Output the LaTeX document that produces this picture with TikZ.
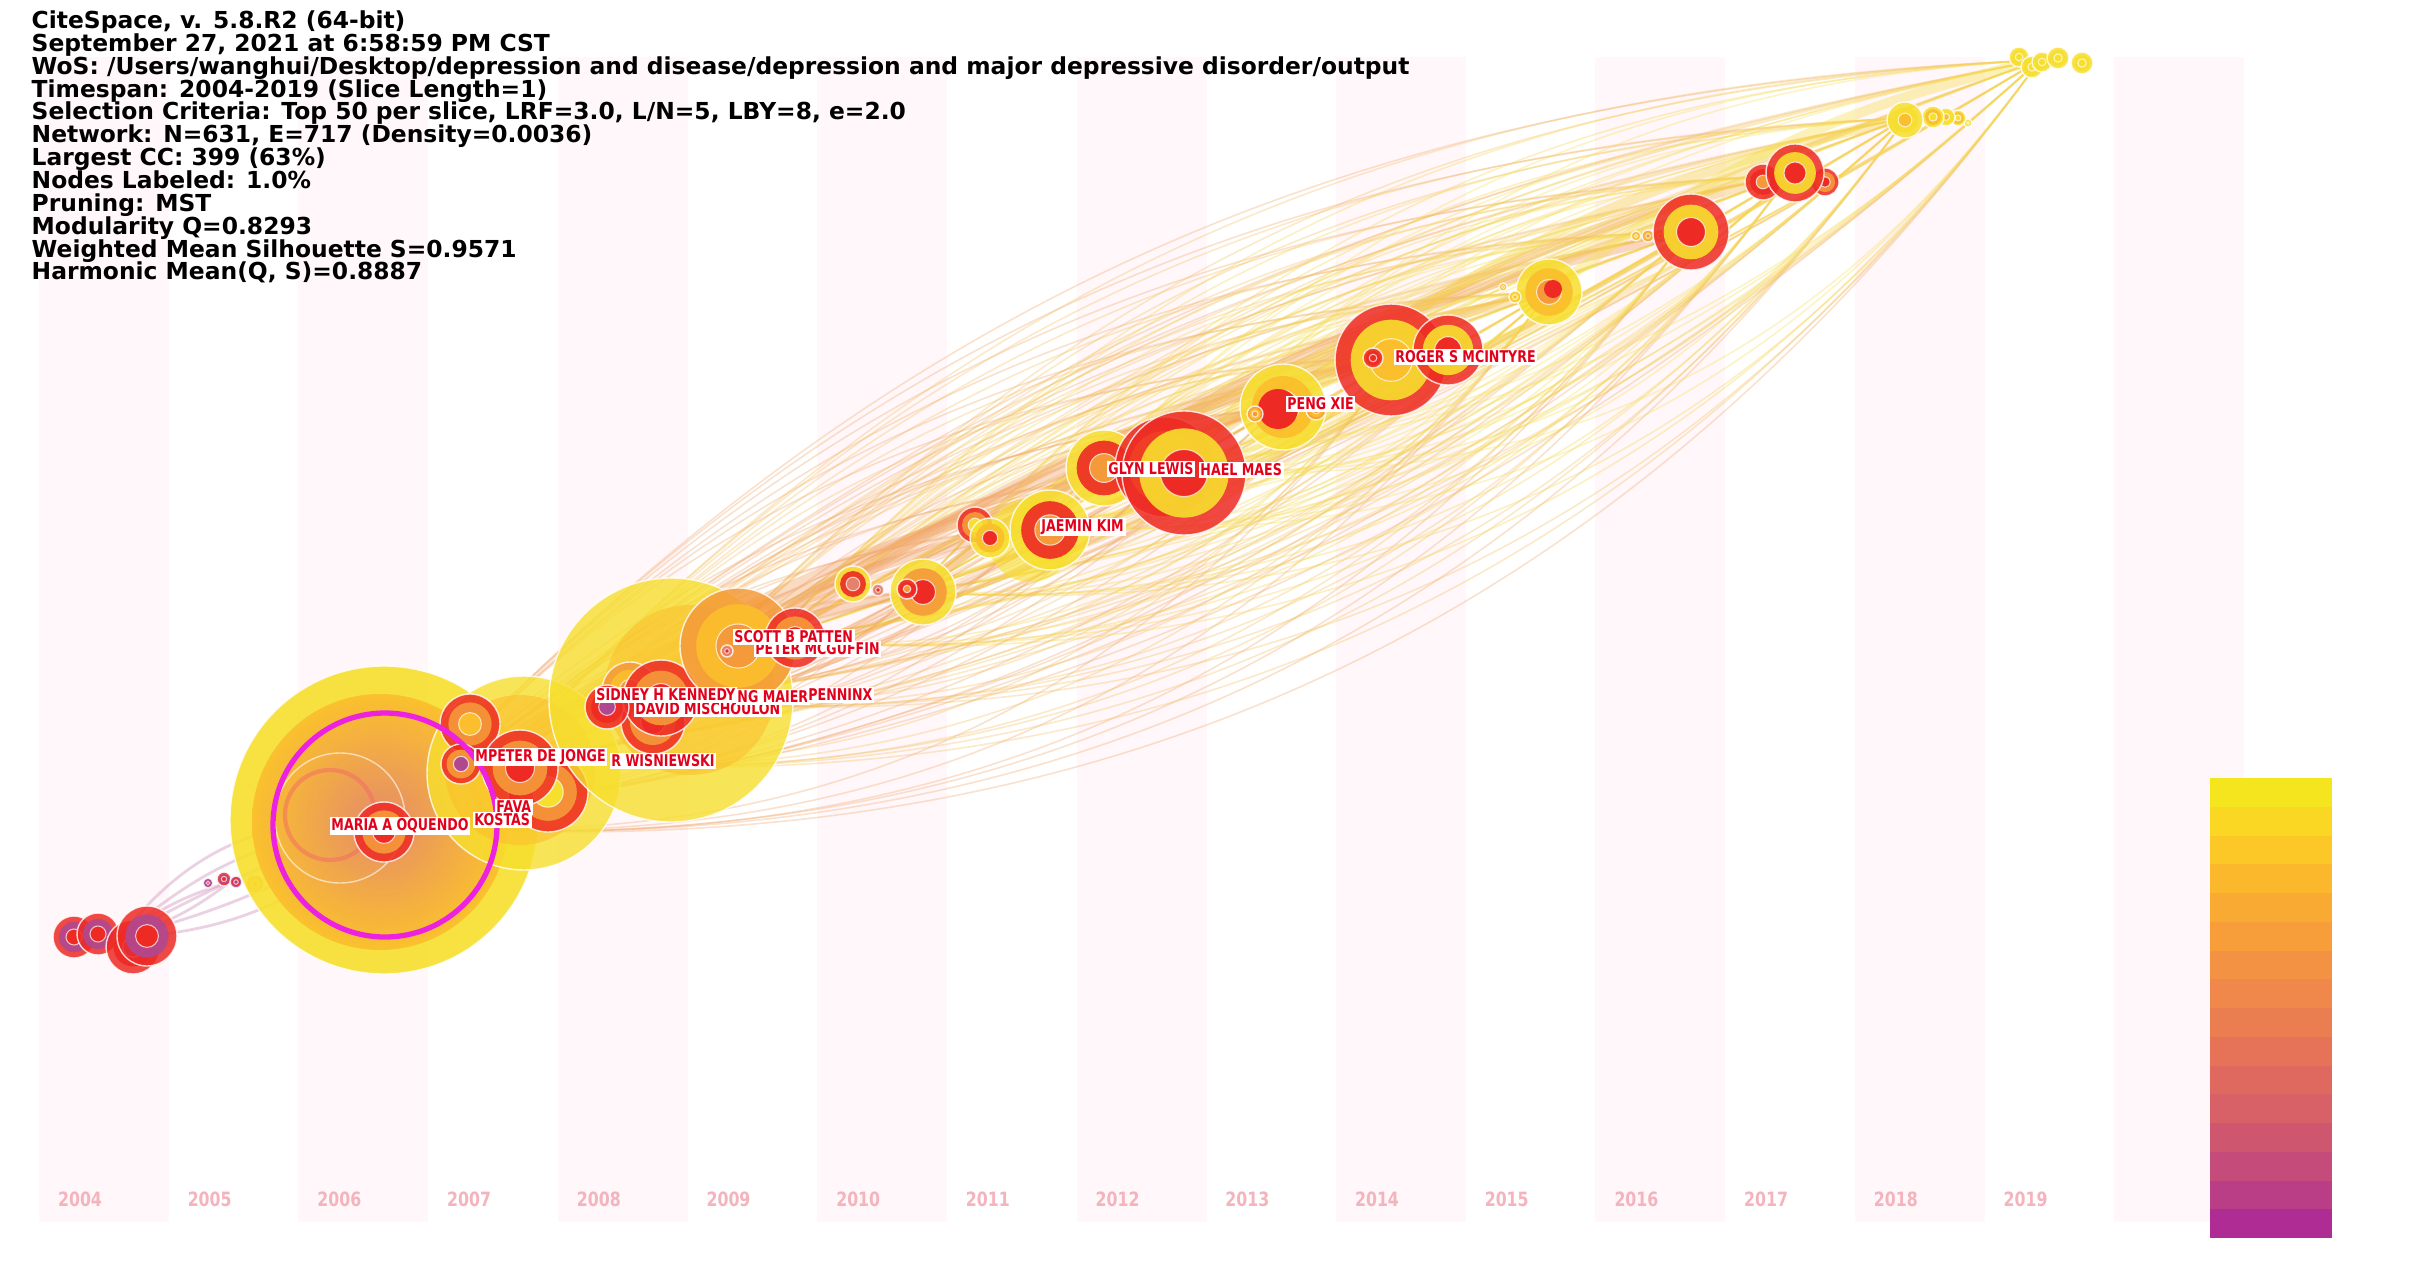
\documentclass[tikz,border=0pt]{standalone}
\usepackage{fontspec}
\setmainfont{DejaVu Sans}
\newfontfamily\lblfont[FakeStretch=0.78]{DejaVu Sans}
\newfontfamily\yrfont[FakeStretch=0.8]{DejaVu Sans}
\newcommand{\infofont}{\bfseries\fontsize{6.65}{6.5}\selectfont\lineskiplimit=-10pt\relax}

\definecolor{cyel}{HTML}{F7DF2E}
\definecolor{cgold}{HTML}{FBBE2C}
\definecolor{corg}{HTML}{F59A3A}
\definecolor{cred}{HTML}{EE2A24}
\definecolor{cpur}{HTML}{B04890}
\definecolor{cpink}{HTML}{E4826E}
\definecolor{cmag}{HTML}{EC22E0}
\definecolor{lblred}{HTML}{E3001B}
\definecolor{stripe}{HTML}{FFF7F9}
\definecolor{yrpink}{HTML}{F4B3BD}
\definecolor{eorange}{HTML}{F1A66A}
\definecolor{eamber}{HTML}{F4BE5C}
\definecolor{eyellow}{HTML}{F6D24A}
\definecolor{elemon}{HTML}{F7DE50}

\tikzset{
    edge/.style={line width=0.45pt, opacity=0.33},
    trail/.style={line width=2.8pt, opacity=0.4, line cap=round},
    pedge/.style={line width=0.8pt, draw=cpur!70, opacity=0.35},
    namelbl/.style={fill=white, text=lblred, font=\lblfont\bfseries\fontsize{4.6}{5}\selectfont, inner sep=0.5pt, anchor=west},
    yearlbl/.style={text=yrpink, font=\yrfont\bfseries\fontsize{5.6}{6}\selectfont, inner sep=0pt},
}

\newcommand{\ringnode}[6]{%
    \fill[#4, opacity=0.85] (#1,#2) circle[radius=#3];
    \fill[#5, opacity=0.9] (#1,#2) circle[radius=0.72*#3];
    \fill[#6] (#1,#2) circle[radius=0.38*#3];
    \draw[white, opacity=0.8, line width=0.4pt] (#1,#2) circle[radius=#3];
    \draw[white, opacity=0.7, line width=0.3pt] (#1,#2) circle[radius=0.38*#3];
}

\begin{document}
\begin{tikzpicture}[x=0.01cm, y=-0.01cm]
    \useasboundingbox[fill=white] (0,0) rectangle (2410,1264);

    \foreach \i in {0,2,...,16}
        \fill[stripe] ({80+129.7*\i-41},57) rectangle ({80+129.7*\i+89},1222);

    \coordinate (y04) at (120,938);
    \coordinate (y05) at (230,882);
    \coordinate (y06) at (384,825);
    \coordinate (y07) at (500,760);
    \coordinate (y08) at (665,702);
    \coordinate (y09) at (770,640);
    \coordinate (y10) at (915,592);
    \coordinate (y11) at (1040,525);
    \coordinate (y12) at (1170,470);
    \coordinate (y13) at (1279,407);
    \coordinate (y14) at (1400,356);
    \coordinate (y15) at (1549,292);
    \coordinate (y16) at (1691,231);
    \coordinate (y17) at (1790,175);
    \coordinate (y18) at (1906,118);
    \coordinate (y19) at (2040,60);

    % links
    \foreach \s/\c in {y06/eorange, y07/eamber, y08/eamber, y09/eyellow, y10/eyellow, y11/elemon, y12/elemon} {
        \foreach \t in {y14,y15,y16,y17,y18,y19} {
            \foreach \b in {-29,-17,-6,5,14,22} {
                \draw[edge, draw=\c] (\s) to[bend left=\b] (\t);
            }
        }
    }
    \foreach \s in {y06,y07,y08} {
        \foreach \t in {y10,y11,y12,y13} {
            \foreach \b in {-18,-6,8,18} {
                \draw[edge, draw=eorange] (\s) to[bend left=\b] (\t);
            }
        }
    }
    \foreach \s/\t/\c in {y16/y10/eorange, y14/y09/eorange, y12/y07/eorange, y11/y06/eorange,
        y17/y12/eamber, y18/y13/eyellow, y19/y15/elemon, y15/y10/eamber, y13/y08/eorange, y10/y06/eorange}
        \draw[trail, draw=\c] (\s) to[bend right=12] (\t);
    \foreach \b in {-20,-8,6,18,30}
        \draw[pedge] (y04) to[bend left=\b] (y06);
    \foreach \b in {-10,10}
        \draw[pedge] (y04) to[bend left=\b] (y05);

    % 2004 - 2005
    \ringnode{74}{937}{21}{cred}{cpur}{cred}
    \ringnode{98}{934}{21}{cred}{cpur}{cred}
    \ringnode{133}{947}{27}{cred}{cred}{cpur}
    \ringnode{147}{936}{30}{cred}{cpur}{cred}
    \ringnode{208}{883}{5}{cpur}{cpur}{cred}
    \ringnode{224}{879}{7}{cred}{cpur}{cred}
    \ringnode{236}{882}{6}{cpur}{cred}{cpur}
    \ringnode{255}{884}{9}{corg}{cgold}{corg}

    % 2006
    \fill[cyel, opacity=0.9] (384,820) circle[radius=154];
    \shade[inner color=cpink, outer color=cgold, opacity=0.9] (380,822) circle[radius=128];
    \draw[cred!70, opacity=0.5, line width=1.2pt] (330,815) circle[radius=45];
    \draw[white, opacity=0.6, line width=0.4pt] (340,818) circle[radius=65];
    \draw[white, opacity=0.8, line width=0.4pt] (384,820) circle[radius=154];
    \ringnode{384}{832}{30}{cred}{corg}{cred}

    % 2007
    \fill[cyel, opacity=0.8] (524,773) circle[radius=97];
    \fill[cgold, opacity=0.6] (520,770) circle[radius=75];
    \draw[white, opacity=0.8, line width=0.4pt] (524,773) circle[radius=97];
    \ringnode{470}{724}{30}{cred}{corg}{cgold}
    \ringnode{548}{792}{40}{cred}{corg}{cyel}
    \ringnode{520}{768}{38}{cred}{corg}{cred}
    \ringnode{461}{764}{20}{cred}{corg}{cpur}

    % 2008 - 2009
    \fill[cyel, opacity=0.8] (671,700) circle[radius=122];
    \fill[cgold, opacity=0.55] (690,690) circle[radius=85];
    \draw[white, opacity=0.8, line width=0.4pt] (671,700) circle[radius=122];
    \ringnode{630}{690}{28}{corg}{cgold}{corg}
    \ringnode{653}{722}{32}{cred}{corg}{cred}
    \ringnode{661}{698}{38}{cred}{corg}{cred}
    \ringnode{607}{707}{22}{cred}{cred}{cpur}
    \ringnode{738}{646}{58}{corg}{cgold}{corg}
    \ringnode{795}{638}{30}{cred}{corg}{cred}
    \ringnode{727}{651}{6}{cpink}{cpink}{cred}

    % 2010 - 2011
    \ringnode{853}{584}{18}{cyel}{cred}{cpink}
    \ringnode{878}{590}{6}{cpink}{cpink}{cred}
    \ringnode{923}{592}{33}{cyel}{corg}{cred}
    \ringnode{907}{589}{10}{cred}{cred}{corg}
    \fill[cyel, opacity=0.6] (1030,540) circle[radius=42];
    \ringnode{975}{525}{18}{cred}{corg}{cyel}
    \ringnode{990}{538}{20}{cyel}{cgold}{cred}
    \ringnode{1050}{530}{40}{cyel}{cred}{corg}

    % 2012 - 2013
    \ringnode{1104}{468}{38}{cyel}{cred}{corg}
    \ringnode{1165}{467}{50}{cred}{cgold}{corg}
    \ringnode{1184}{473}{62}{cred}{cyel}{cred}
    \ringnode{1283}{407}{43}{cyel}{cgold}{corg}
    \fill[cred] (1278,409) circle[radius=20];
    \ringnode{1255}{414}{8}{corg}{cgold}{corg}
    \ringnode{1316}{410}{10}{corg}{cgold}{corg}

    % 2014 - 2015
    \ringnode{1391}{360}{56}{cred}{cyel}{cgold}
    \ringnode{1448}{350}{35}{cred}{cyel}{cred}
    \ringnode{1373}{358}{10}{cred}{cred}{cred}
    \ringnode{1549}{292}{33}{cyel}{cgold}{corg}
    \fill[cred] (1553,289) circle[radius=9];
    \ringnode{1503}{287}{4}{cgold}{cgold}{corg}
    \ringnode{1515}{297}{6}{cgold}{cyel}{cgold}

    % 2016 - 2019
    \foreach \x/\r/\c in {1636/5/cgold, 1648/6/corg, 1660/7/cgold, 1672/8/corg} {
        \ringnode{\x}{236}{\r}{\c}{cgold}{\c}
    }
    \ringnode{1691}{232}{38}{cred}{cyel}{cred}
    \ringnode{1763}{182}{18}{cred}{cred}{corg}
    \ringnode{1825}{182}{14}{cred}{corg}{cred}
    \ringnode{1795}{173}{29}{cred}{cyel}{cred}
    \ringnode{1968}{123}{4}{cyel}{cyel}{cyel}
    \ringnode{1958}{118}{8}{cyel}{cgold}{cyel}
    \ringnode{1946}{117}{9}{cyel}{cyel}{cgold}
    \ringnode{1933}{117}{11}{cyel}{cgold}{cyel}
    \ringnode{1905}{120}{18}{cyel}{cyel}{cgold}
    \foreach \x/\y/\r in {2019/57/10, 2032/67/11, 2042/62/10, 2058/58/11, 2082/63/11} {
        \ringnode{\x}{\y}{\r}{cyel}{cyel}{cyel}
    }

    \draw[cmag, line width=1.5pt] (385,825) circle[radius=112];

    % labels
    \node[namelbl] (lbOquendo) at (329,826) {MARIA A OQUENDO};
    \node[namelbl] (lbFava) at (494,807) {FAVA};
    \node[namelbl] (lbKostas) at (472,820) {KOSTAS};
    \node[namelbl] (lbJonge) at (473,757) {MPETER DE JONGE};
    \node[namelbl] (lbWis) at (609,761) {R WISNIEWSKI};
    \node[namelbl] (lbMisch) at (633,709) {DAVID MISCHOULON};
    \node[namelbl] (lbKennedy) at (594,695) {SIDNEY H KENNEDY};
    \node[namelbl] (lbMaier) at (735,697) {NG MAIER};
    \node[namelbl] (lbPenninx) at (806,695) {PENNINX};
    \node[namelbl] (lbMcguffin) at (753,649) {PETER MCGUFFIN};
    \node[namelbl] (lbPatten) at (732,637) {SCOTT B PATTEN};
    \node[namelbl] (lbKim) at (1039,527) {JAEMIN KIM};
    \node[namelbl] (lbLewis) at (1106,469) {GLYN LEWIS};
    \node[namelbl] (lbMaes) at (1198,470) {HAEL MAES};
    \node[namelbl] (lbXie) at (1285,404) {PENG XIE};
    \node[namelbl] (lbMcintyre) at (1393,357) {ROGER S MCINTYRE};

    % years and legend
    \foreach \yr [count=\i from 0] in {2004,2005,...,2019}
        \node[yearlbl] (yr\yr) at ({80+129.7*\i},1199) {\yr};
    \foreach \hex [count=\i from 0] in {F5E51E,F9D723,FBC827,FBB82C,F9AA33,F79E3A,F39242,EF884A,
        EB7E51,E67358,E0695F,D86067,CF566F,C54B7A,BA3E86,AE2C94} {
        \definecolor{legc}{HTML}{\hex}
        \fill[legc] (2210,{778+28.75*\i}) rectangle (2332,{778+28.75*(\i+1)});
    }

    \node[anchor=north west, align=left, inner sep=0pt, font=\infofont] (info) at (31,10) {%
        CiteSpace, v. 5.8.R2 (64-bit)\\
        September 27, 2021 at 6:58:59 PM CST\\
        WoS: /Users/wanghui/Desktop/depression and disease/depression and major depressive disorder/output\\
        Timespan: 2004-2019 (Slice Length=1)\\
        Selection Criteria: Top 50 per slice, LRF=3.0, L/N=5, LBY=8, e=2.0\\
        Network: N=631, E=717 (Density=0.0036)\\
        Largest CC: 399 (63\%)\\
        Nodes Labeled: 1.0\%\\
        Pruning: MST\\
        Modularity Q=0.8293\\
        Weighted Mean Silhouette S=0.9571\\
        Harmonic Mean(Q, S)=0.8887};
\end{tikzpicture}
\end{document}
